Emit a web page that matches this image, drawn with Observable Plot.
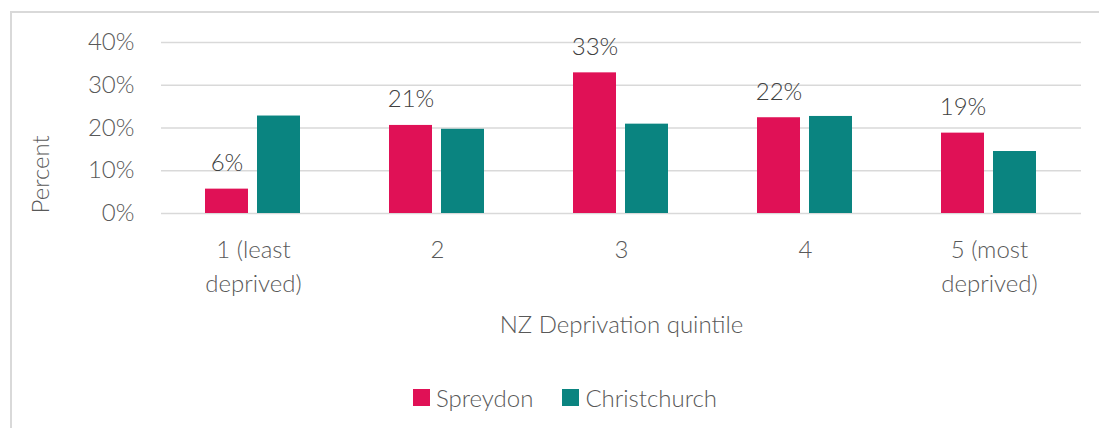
<!DOCTYPE html>
<html><head><meta charset="utf-8">
<script src="https://cdn.jsdelivr.net/npm/d3@7"></script>
<script src="https://cdn.jsdelivr.net/npm/@observablehq/plot@0.6"></script>
<style>
body{margin:0;background:#fff;font-family:Lato,sans-serif;}
#frame{position:absolute;left:10px;top:11px;width:1100px;height:430px;border-left:2px solid #d9d9d9;border-top:2px solid #d9d9d9;box-sizing:border-box;}
#chart svg{display:block;}
#legend{margin-top:28px;padding-left:8px;}
#legend > div{justify-content:center;}
#legend span > svg{margin-right:6px !important;}
#legend span{margin-right:29px !important;}
#legend span:last-child{margin-right:0 !important;}
</style></head><body><div id="frame"><div id="chart"></div><div id="legend"></div></div>
<script>
const quintiles = ["1 (least\ndeprived)", "2", "3", "4", "5 (most\ndeprived)"];
const series = ["Spreydon", "Christchurch"];
const spreydon = [5.7, 20.6, 32.9, 22.4, 18.8];
const christchurch = [22.8, 19.7, 20.9, 22.7, 14.5];
const colors = ["#E01156", "#0A8480"];
const yTicks = [0, 10, 20, 30, 40];

const data = [];
quintiles.forEach((q, i) => {
  data.push({quintile: q, series: series[0], value: spreydon[i]});
  data.push({quintile: q, series: series[1], value: christchurch[i]});
});
const labels = data.filter(d => d.series === "Spreydon");

const plot = Plot.plot({
  width: 1087, height: 340,
  marginLeft: 147, marginRight: 17, marginTop: 29, marginBottom: 140,
  style: {fontFamily: "Lato, sans-serif", fontSize: "24px", fontWeight: 300, color: "#595959", background: "transparent", overflow: "visible"},
  fx: {domain: quintiles, padding: 0},
  x: {domain: series, paddingInner: 0.171, paddingOuter: 0.842, axis: null},
  y: {domain: [0, 40]},
  color: {domain: series, range: colors},
  marks: [
    Plot.ruleY(yTicks, {stroke: "#d9d9d9", strokeWidth: 1.5}),
    Plot.barY(data, {fx: "quintile", x: "series", y: "value", fill: "series"}),
    Plot.text(labels, {fx: "quintile", x: "series", y: "value", text: d => Math.round(d.value) + "%", lineAnchor: "bottom", dy: -18, fill: "#404040", fontSize: 24}),
    Plot.axisY({ticks: yTicks, tickFormat: d => d + "%", tickSize: 0, tickPadding: 27, label: null, fill: "#595959"}),
    Plot.text(["Percent"], {frameAnchor: "bottom-left", rotate: -90, textAnchor: "start", dx: -113, facetAnchor: "left", fill: "#595959", fontSize: 24}),
    Plot.axisFx({anchor: "bottom", tickSize: 0, tickPadding: 20, lineHeight: 1.42, label: "NZ Deprivation quintile", labelAnchor: "center", labelOffset: 119, fill: "#595959"})
  ]
});
document.getElementById("chart").appendChild(plot);
const leg = plot.legend("color", {swatchSize: 17, style: {fontSize: "24px", fontFamily: "Lato, sans-serif", fontWeight: 300, color: "#595959"}});
document.getElementById("legend").appendChild(leg);
</script></body></html>
